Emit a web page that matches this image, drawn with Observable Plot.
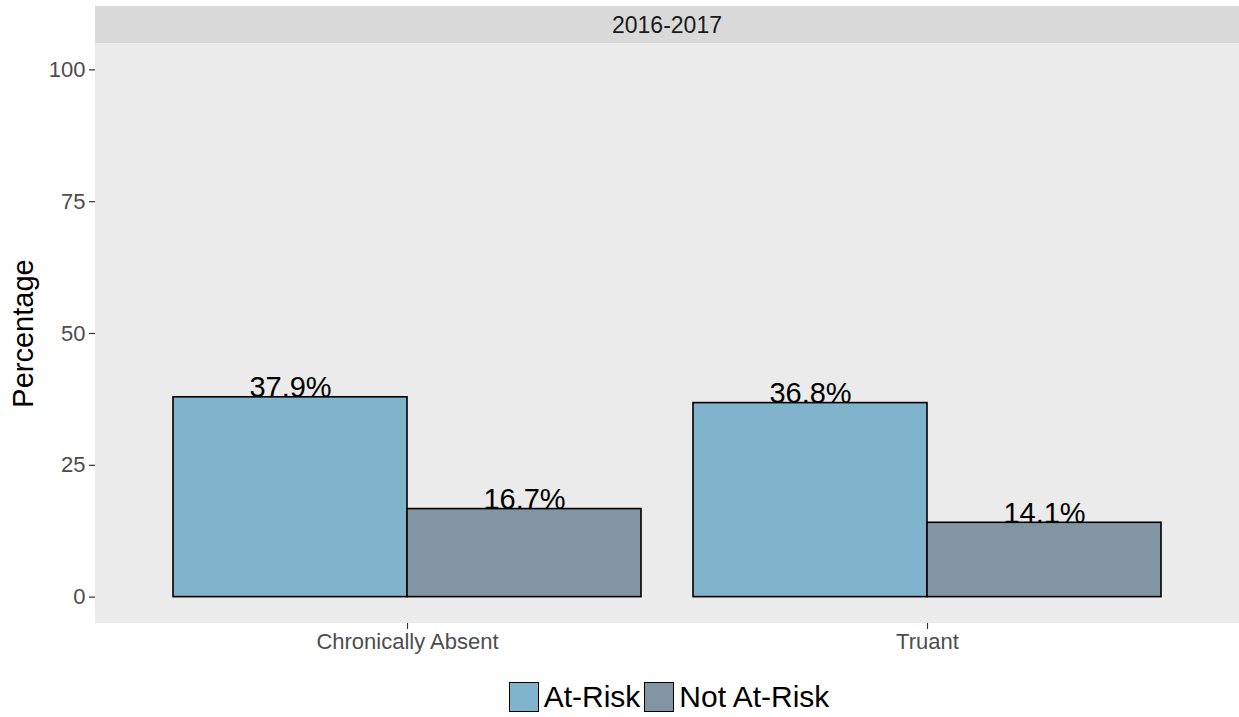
<!DOCTYPE html>
<html><head><meta charset="utf-8">
<script src="https://cdn.jsdelivr.net/npm/d3@7"></script>
<script src="https://cdn.jsdelivr.net/npm/@observablehq/plot@0.6"></script>
<style>
body{margin:0;background:#fff;font-family:"Liberation Sans",Arial,sans-serif;}
#legend{margin-left:95px;width:1144px;display:flex;justify-content:center;padding-top:17px;padding-left:8px;box-sizing:border-box;}
.item{display:flex;align-items:center;margin-right:4px;}
.box{width:30px;height:30px;box-sizing:border-box;border:1.6px solid #000;margin-right:5px;}
.lab{font-size:30px;line-height:30px;color:#000;}
[aria-label="y-axis label"] text{font-size:29px;fill:#000;}
</style></head><body><div id="chart"></div><div id="legend"></div>
<script>
const categories = ["Chronically Absent", "Truant"];
const groups = ["At-Risk", "Not At-Risk"];
const atRisk = [37.9, 36.8];
const notAtRisk = [16.7, 14.1];
const colors = ["#80b3cc", "#8295a3"];
const yTicks = [0, 25, 50, 75, 100];
const facetLabel = "2016-2017";
const yTitle = "Percentage";

const data = categories.flatMap((c, i) => [
  {category: c, group: groups[0], value: atRisk[i]},
  {category: c, group: groups[1], value: notAtRisk[i]}
]);

const W = 1239, H = 665, mL = 95, mR = 0, mT = 43, mB = 42;
const pInner = 0.1, pOuter = 0.15;
const step = (W - mL - mR) / (categories.length - pInner + 2 * pOuter);
const axisShift = -pOuter * step;

const chart = Plot.plot({
  width: W, height: H, marginLeft: mL, marginRight: mR, marginTop: mT, marginBottom: mB,
  style: {fontFamily: "Liberation Sans, Arial, sans-serif", background: "transparent", overflow: "visible"},
  fx: {domain: categories, paddingInner: pInner, paddingOuter: pOuter, round: false, axis: null},
  x: {domain: groups, padding: 0, axis: null, round: false},
  y: {domain: [-5, 105], axis: null},
  color: {domain: groups, range: colors},
  marks: [
    Plot.barY(data, {fx: "category", x: "group", y: "value", fill: "group", stroke: "black", strokeWidth: 1.6}),
    Plot.text(data, {fx: "category", x: "group", y: "value", text: d => d.value.toFixed(1) + "%", lineAnchor: "bottom", fontSize: 29, fill: "black"}),
    Plot.axisY({ticks: yTicks, tickSize: 6, tickPadding: 4, fontSize: 22, fill: "#4d4d4d", stroke: "#333", strokeWidth: 1.2, label: yTitle, labelAnchor: "center", labelArrow: "none", labelOffset: 83 - axisShift, dx: axisShift}),
    Plot.axisFx({anchor: "bottom", tickSize: 6, tickPadding: 4, fontSize: 22, fill: "#4d4d4d", stroke: "#333", strokeWidth: 1.2, label: null})
  ]
});
document.getElementById("chart").appendChild(chart);

// panel background and strip
const bg = document.createElementNS("http://www.w3.org/2000/svg", "g");
chart.insertBefore(bg, chart.firstChild.nextSibling);
d3.select(bg).append("rect").attr("x", mL).attr("y", mT).attr("width", W - mL - mR).attr("height", H - mT - mB).attr("fill", "#ebebeb");
d3.select(bg).append("rect").attr("x", mL).attr("y", 6).attr("width", W - mL - mR).attr("height", mT - 6).attr("fill", "#d9d9d9");
d3.select(bg).append("text").attr("x", mL + (W - mL - mR) / 2).attr("y", 24.5).attr("dy", "0.35em")
  .attr("text-anchor", "middle").attr("font-size", 23).attr("fill", "#1a1a1a").text(facetLabel);

// legend
const leg = d3.select("#legend");
groups.forEach((g, i) => {
  const it = leg.append("div").attr("class", "item");
  it.append("div").attr("class", "box").style("background", colors[i]);
  it.append("span").attr("class", "lab").text(g);
});
</script></body></html>
